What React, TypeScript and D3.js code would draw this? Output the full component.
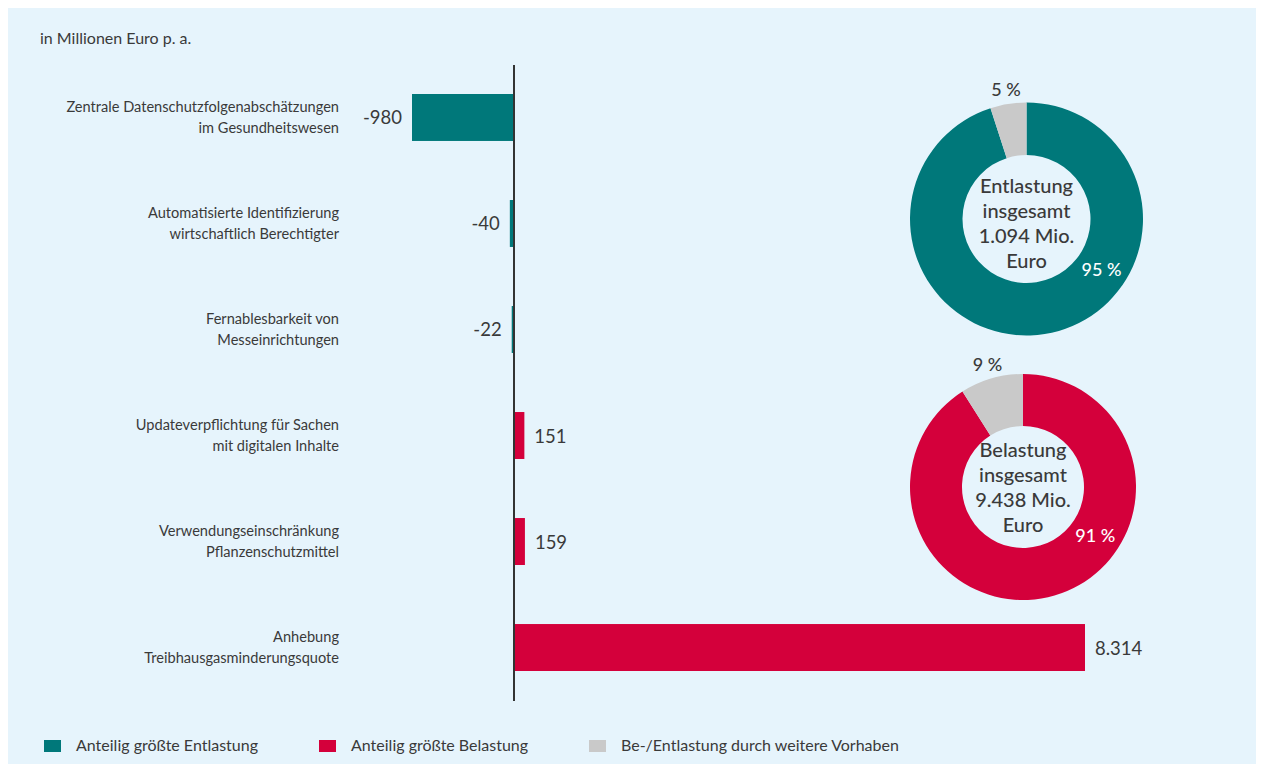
import React from "react";
import * as d3 from "d3";

// ---------- data ----------
const categories: string[][] = [
  ["Zentrale Datenschutzfolgenabschätzungen", "im Gesundheitswesen"],
  ["Automatisierte Identifizierung", "wirtschaftlich Berechtigter"],
  ["Fernablesbarkeit von", "Messeinrichtungen"],
  ["Updateverpflichtung für Sachen", "mit digitalen Inhalte"],
  ["Verwendungseinschränkung", "Pflanzenschutzmittel"],
  ["Anhebung", "Treibhausgasminderungsquote"],
];
const values: number[] = [-980, -40, -22, 151, 159, 8314];

const reliefTitle: string[] = ["Entlastung", "insgesamt"];
const reliefTotal = 1094;
const reliefShares: number[] = [95, 5];

const burdenTitle: string[] = ["Belastung", "insgesamt"];
const burdenTotal = 9438;
const burdenShares: number[] = [91, 9];

const legendLabels: string[] = [
  "Anteilig größte Entlastung",
  "Anteilig größte Belastung",
  "Be-/Entlastung durch weitere Vorhaben",
];
const unitLabel = "in Millionen Euro p. a.";

// ---------- style ----------
const TEAL = "#00787A";
const RED = "#D4003B";
const GRAY = "#C9C9C9";
const BG = "#E6F4FC";
const TEXT = "#3A3A3A";
const FONT = "Lato, 'Open Sans', sans-serif";

const de = d3.formatLocale({
  decimal: ",",
  thousands: ".",
  grouping: [3],
  currency: ["", " €"],
});
const fmt = de.format(",d");

const x = d3.scaleLinear().domain([-980, 0, 8314]).range([412, 514, 1085]);
const y = d3
  .scaleBand<number>()
  .domain(values.map((_, i) => i))
  .range([64, 701])
  .paddingInner(0.557)
  .paddingOuter(0.283);

type DonutProps = {
  cx: number;
  cy: number;
  outer: number;
  inner: number;
  shares: number[];
  color: string;
  title: string[];
  total: number;
  textTop: number;
};

function Donut({ cx, cy, outer, inner, shares, color, title, total, textTop }: DonutProps) {
  const pie = d3.pie<number>().sort(null).value((d) => d);
  const arcs = pie(shares);
  const arc = d3.arc<d3.PieArcDatum<number>>().innerRadius(inner).outerRadius(outer);
  const colors = [color, GRAY];
  const small = arcs[1];
  const smallMid = (small.startAngle + small.endAngle) / 2;
  const lr = outer + 14;
  const lx = cx + lr * Math.sin(smallMid);
  const ly = cy - lr * Math.cos(smallMid);
  const bigAngle = 2.16;
  const br = (inner + outer) / 2;
  const bx = cx + br * Math.sin(bigAngle);
  const by = cy - br * Math.cos(bigAngle);
  const lines = [...title, `${fmt(total)} Mio.`, "Euro"];
  return (
    <g>
      <g transform={`translate(${cx},${cy})`}>
        {arcs.map((a, i) => (
          <path key={i} d={arc(a) || ""} fill={colors[i]} />
        ))}
      </g>
      <text x={lx} y={ly + 6} textAnchor="middle" fontSize={18} fontWeight={500} fill={TEXT}>
        {`${shares[1]} %`}
      </text>
      <text x={bx} y={by + 6.5} textAnchor="middle" fontSize={18} fontWeight={500} fill="#ffffff">
        {`${shares[0]} %`}
      </text>
      {lines.map((l, i) => (
        <text
          key={i}
          x={cx}
          y={cy + textTop + i * 25}
          textAnchor="middle"
          fontSize={20}
          fontWeight={500}
          fill={TEXT}
        >
          {l}
        </text>
      ))}
    </g>
  );
}

export default function App() {
  const legendX = [44, 319, 589];
  const legendColors = [TEAL, RED, GRAY];
  return (
    <div style={{ position: "absolute", left: 0, top: 0 }}>
      <svg width={1261} height={764} style={{ display: "block", fontFamily: FONT }}>
        <rect x={8} y={8} width={1248} height={756} fill={BG} />
        <text x={40} y={44} fontSize={16} fill={TEXT}>
          {unitLabel}
        </text>

        {values.map((v, i) => {
          const top = y(i)!;
          const h = y.bandwidth();
          const c = top + h / 2;
          const x0 = x(Math.min(0, v));
          const x1 = x(Math.max(0, v));
          return (
            <g key={i}>
              <rect
                x={v < 0 ? x0 : x(0) + 1}
                y={top}
                width={v < 0 ? x1 - x0 - 1 : x1 - x(0) - 1}
                height={h}
                fill={v < 0 ? TEAL : RED}
              />
              <text
                x={v < 0 ? x0 - 10 : x1 + 10}
                y={c + 7}
                textAnchor={v < 0 ? "end" : "start"}
                fontSize={18.5}
                fill={TEXT}
              >
                {v < 0 ? `-${fmt(-v)}` : fmt(v)}
              </text>
              {categories[i].map((line, j) => (
                <text
                  key={j}
                  x={339}
                  y={c - 5.5 + j * 21}
                  textAnchor="end"
                  fontSize={14.6}
                  fill={TEXT}
                >
                  {line}
                </text>
              ))}
            </g>
          );
        })}

        <line x1={x(0)} x2={x(0)} y1={65} y2={701} stroke="#333333" strokeWidth={2} />

        <Donut
          cx={1026.5}
          cy={219}
          outer={116.5}
          inner={64}
          shares={reliefShares}
          color={TEAL}
          title={reliefTitle}
          total={reliefTotal}
          textTop={-26}
        />
        <Donut
          cx={1023}
          cy={487}
          outer={113}
          inner={61}
          shares={burdenShares}
          color={RED}
          title={burdenTitle}
          total={burdenTotal}
          textTop={-30}
        />

        {legendLabels.map((l, i) => (
          <g key={i}>
            <rect x={legendX[i]} y={740} width={17} height={12} fill={legendColors[i]} />
            <text x={legendX[i] + 32} y={751} fontSize={16} fill={TEXT}>
              {l}
            </text>
          </g>
        ))}
      </svg>
    </div>
  );
}
